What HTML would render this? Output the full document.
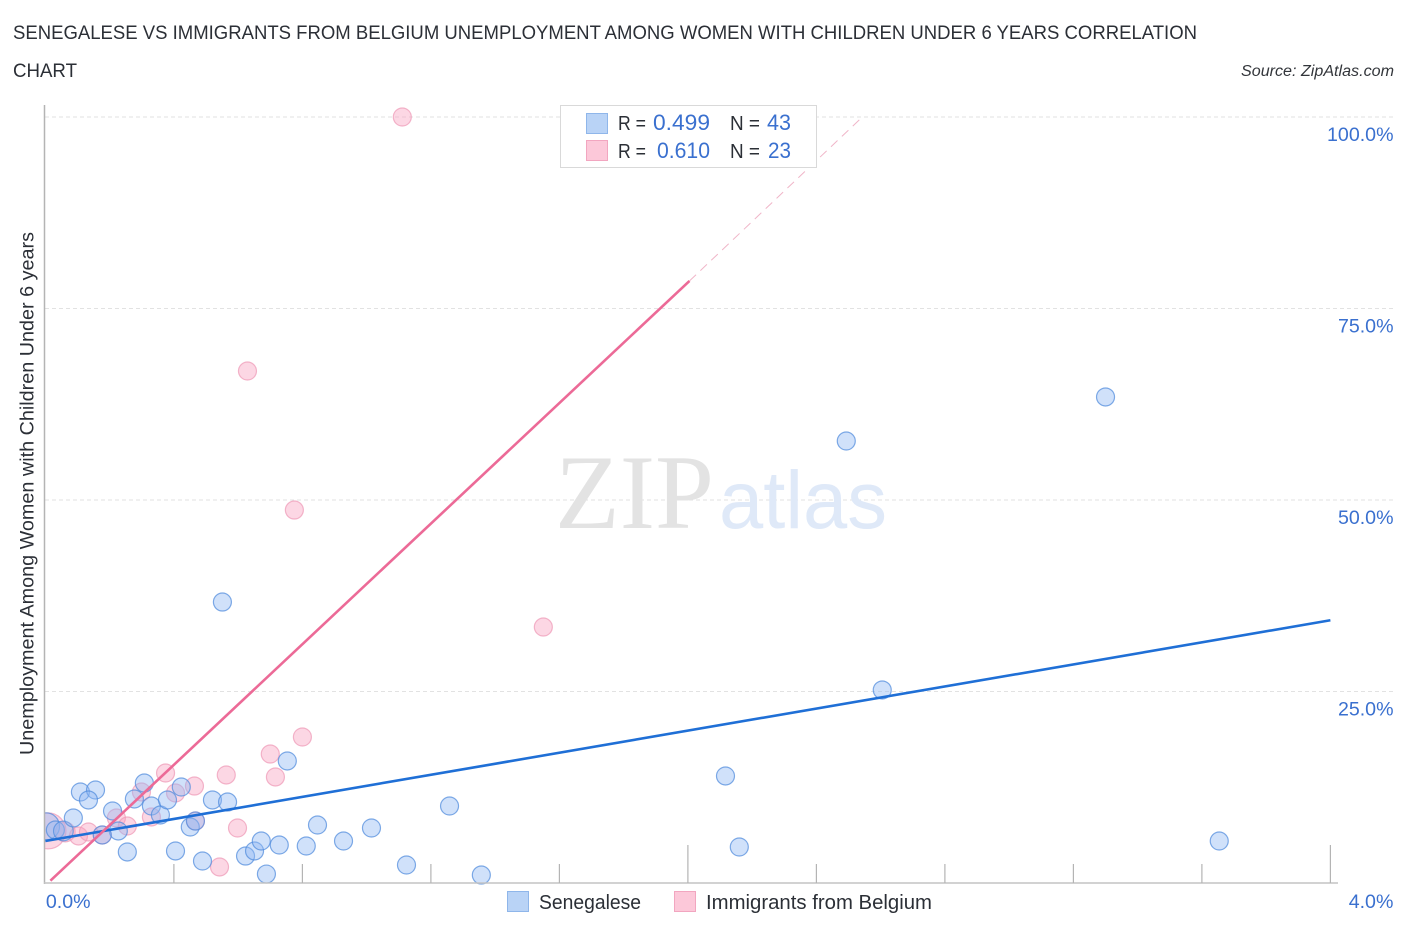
<!DOCTYPE html>
<html lang="en">
<head>
<meta charset="utf-8">
<title>Senegalese vs Immigrants from Belgium Correlation Chart</title>
<style>
html,body{margin:0;padding:0;background:#fff;}
svg{display:block;font-family:"Liberation Sans",sans-serif;}
</style>
</head>
<body>
<svg id="chart" xmlns="http://www.w3.org/2000/svg" width="1406" height="930" viewBox="0 0 1406 930">
  <text x="13" y="39" font-size="19" fill="#2b2f36" textLength="1184" lengthAdjust="spacingAndGlyphs">SENEGALESE VS IMMIGRANTS FROM BELGIUM UNEMPLOYMENT AMONG WOMEN WITH CHILDREN UNDER 6 YEARS CORRELATION</text>
  <text x="13" y="77" font-size="19" fill="#2b2f36" textLength="64" lengthAdjust="spacingAndGlyphs">CHART</text>
  <text x="1394" y="76" font-size="15.5" font-style="italic" fill="#33363b" text-anchor="end" textLength="153" lengthAdjust="spacingAndGlyphs">Source: ZipAtlas.com</text>

  <g id="grid"></g>

  <g>
    <text x="555" y="528" font-family="'Liberation Serif',serif" font-size="106" fill="#e3e3e3" textLength="159" lengthAdjust="spacingAndGlyphs">ZIP</text>
    <text x="719" y="528" font-size="82" fill="#dfe9f8" textLength="168" lengthAdjust="spacingAndGlyphs">atlas</text>
  </g>

  <g id="points"></g>
  <rect x="0" y="790" width="45" height="80" fill="#fff"/>
  <g id="axes"></g>
  <g id="trends"></g>
  <g id="tick-labels"></g>

  <text transform="translate(33.5 755) rotate(-90)" font-size="19" fill="#2b2f36" textLength="523" lengthAdjust="spacingAndGlyphs">Unemployment Among Women with Children Under 6 years</text>

  <g>
    <rect x="560.5" y="105.5" width="256" height="62" fill="#fff" stroke="#d9d9d9" stroke-width="1"/>
    <rect x="586.5" y="113.5" width="21" height="20" fill="#b9d3f6" stroke="#8fb6ea"/>
    <rect x="586.5" y="140.5" width="21" height="20" fill="#fcc8d9" stroke="#f2a6c0"/>
    <g font-size="20">
      <text x="618" y="130" fill="#2b2f36" textLength="28" lengthAdjust="spacingAndGlyphs">R =</text>
      <text x="653" y="130" fill="#3a70cf" font-size="22" textLength="57" lengthAdjust="spacingAndGlyphs">0.499</text>
      <text x="730" y="130" fill="#2b2f36" textLength="30" lengthAdjust="spacingAndGlyphs">N =</text>
      <text x="767" y="130" fill="#3a70cf" font-size="22" textLength="24" lengthAdjust="spacingAndGlyphs">43</text>
      <text x="618" y="158" fill="#2b2f36" textLength="28" lengthAdjust="spacingAndGlyphs">R =</text>
      <text x="657" y="158" fill="#3a70cf" font-size="22" textLength="53" lengthAdjust="spacingAndGlyphs">0.610</text>
      <text x="730" y="158" fill="#2b2f36" textLength="30" lengthAdjust="spacingAndGlyphs">N =</text>
      <text x="768" y="158" fill="#3a70cf" font-size="22" textLength="23" lengthAdjust="spacingAndGlyphs">23</text>
    </g>
  </g>

  <g>
    <rect x="507.5" y="891.5" width="21" height="20" fill="#b9d3f6" stroke="#8fb6ea"/>
    <text x="539" y="909" font-size="20" fill="#2b2f36" textLength="102" lengthAdjust="spacingAndGlyphs">Senegalese</text>
    <rect x="674.5" y="891.5" width="21" height="20" fill="#fcc8d9" stroke="#f2a6c0"/>
    <text x="706" y="909" font-size="20" fill="#2b2f36" textLength="226" lengthAdjust="spacingAndGlyphs">Immigrants from Belgium</text>
  </g>
</svg>
<script>
// Tick data
const xTicks = [0.4, 0.8, 1.2, 1.6, 2.0, 2.4, 2.8, 3.2, 3.6, 4.0];
const xMajorTicks = [2.0, 4.0];
const xEdgeLabels = [0, 4];
const yTicks = [25, 50, 75, 100];

// Senegalese series (x = percent, y = percent, w = relative bubble weight)
const blueX = [0.002,0.031,0.056,0.087,0.109,0.156,0.134,0.209,0.308,0.277,0.330,0.358,0.380,0.423,0.255,0.227,0.177,0.405,0.451,0.467,0.520,0.567,0.489,0.623,0.651,0.672,0.728,0.688,0.812,0.847,0.928,0.753,1.015,1.124,1.258,1.357,0.551,2.117,2.160,2.605,2.493,3.300,3.654];
const blueY = [7.4,6.92,6.79,8.49,11.88,12.14,10.84,9.40,13.05,10.97,10.05,8.88,10.84,12.53,4.05,6.79,6.27,4.18,7.31,8.09,10.84,10.57,2.87,3.52,4.18,5.48,4.96,1.17,4.83,7.57,5.48,15.93,7.18,2.35,10.05,1.04,36.68,13.97,4.70,25.20,57.70,63.45,5.48];
const blueW = [2.25,1,1.2,1,1,1,1,1,1,1,1,1,1,1,1,1,1,1,1,1,1,1,1,1,1,1,1,1,1,1,1,1,1,1,1,1,1,1,1,1,1,1,1];

// Immigrants from Belgium series
const pinkX = [0.008,0.062,0.103,0.134,0.177,0.221,0.255,0.330,0.299,0.374,0.405,0.464,0.467,0.563,0.700,0.716,0.800,0.598,0.542,0.629,0.775,1.111,1.550];
const pinkY = [6.8,6.66,6.14,6.66,6.27,8.49,7.44,8.62,11.88,14.36,11.75,12.66,8.09,14.10,16.84,13.84,19.06,7.18,2.09,66.84,48.69,100,33.42];
const pinkW = [4,1.2,1,1,1,1,1,1,1,1,1,1,1,1,1,1,1,1,1,1,1,1,1];

// Trend endpoints [x%, y%]
const blueTrendX = [0, 4];
const blueTrendY = [5.48, 34.3];
const pinkTrendX = [0.0156, 2.005];
const pinkTrendY = [0.3, 78.6];
const pinkDashX = [2.005, 2.543];
const pinkDashY = [78.6, 100];

// Axis functions
function xScale(v) { return 45.4 + v * 321.25; }
function yScale(v) { return 883 - v * 7.66; }

const NS = 'http://www.w3.org/2000/svg';
function make(tag, attrs, parent, text) {
  const el = document.createElementNS(NS, tag);
  for (const k in attrs) el.setAttribute(k, attrs[k]);
  if (text !== undefined) el.textContent = text;
  parent.appendChild(el);
  return el;
}
const grid = document.getElementById('grid');
const axes = document.getElementById('axes');
const points = document.getElementById('points');
const trends = document.getElementById('trends');
const labels = document.getElementById('tick-labels');

yTicks.forEach(function (t) {
  const line = make('line', {x1: 45, x2: 1394, y1: yScale(t), y2: yScale(t), stroke: '#e2e2e2', 'stroke-width': 1, 'stroke-dasharray': '4 3'}, grid);
  
  
  const lab = make('text', {x: 1393.5, y: yScale(t) + 24, 'font-size': 19.6, fill: '#3a70cf', 'text-anchor': 'end'}, labels, t.toFixed(1) + '%');
  
  
});

const yAxis = make('line', {x1: 44.5, x2: 44.5, y1: 105, y2: 884, stroke: '#b4b4b4', 'stroke-width': 1.5}, axes);


const xAxis = make('line', {x1: 44, x2: 1338, y1: 883, y2: 883, stroke: '#c4c4c4', 'stroke-width': 1.5}, axes);



xTicks.forEach(function (t) {
  const top = xMajorTicks.indexOf(t) >= 0 ? 845 : 864;
  const tick = make('line', {x1: xScale(t), x2: xScale(t), y1: top, y2: 883, stroke: '#b4b4b4', 'stroke-width': 1.2}, axes);
  
  
});

xEdgeLabels.forEach(function (t, i) {
  const lab = make('text', {x: i === 0 ? xScale(t) + 0.5 : xScale(t) + 63, y: 908, 'font-size': 19.6, fill: '#3a70cf', 'text-anchor': i === 0 ? 'start' : 'end'}, labels, t.toFixed(1) + '%');
  
  
});

function drawSeries(xs, ys, ws, fill, stroke, name) {
  xs.forEach(function (x, i) {
    const c = make('circle', {cx: xScale(x), cy: yScale(ys[i]), r: 9 * Math.sqrt(ws[i]), fill: fill, 'fill-opacity': 0.42, stroke: stroke, 'stroke-opacity': 0.72, 'stroke-width': 1.2}, points);
    
    
  });
}
drawSeries(pinkX, pinkY, pinkW, '#f7a0bf', '#ef9ab7', 'belgium');
drawSeries(blueX, blueY, blueW, '#8fb8f2', '#4f8bdc', 'senegalese');

function drawLine(xs, ys, attrs, name) {
  const base = {x1: xScale(xs[0]), y1: yScale(ys[0]), x2: xScale(xs[1]), y2: yScale(ys[1])};
  const line = make('line', Object.assign(base, attrs), trends);
  
  
}
drawLine(blueTrendX, blueTrendY, {stroke: '#1f6fd6', 'stroke-width': 2.6}, 'senegalese-trend-line');
drawLine(pinkTrendX, pinkTrendY, {stroke: '#ec6a97', 'stroke-width': 2.6}, 'belgium-trend-line');
drawLine(pinkDashX, pinkDashY, {stroke: '#f0b5c8', 'stroke-width': 1, 'stroke-dasharray': '9 6'}, 'belgium-trend-extension');
</script>
</body>
</html>
